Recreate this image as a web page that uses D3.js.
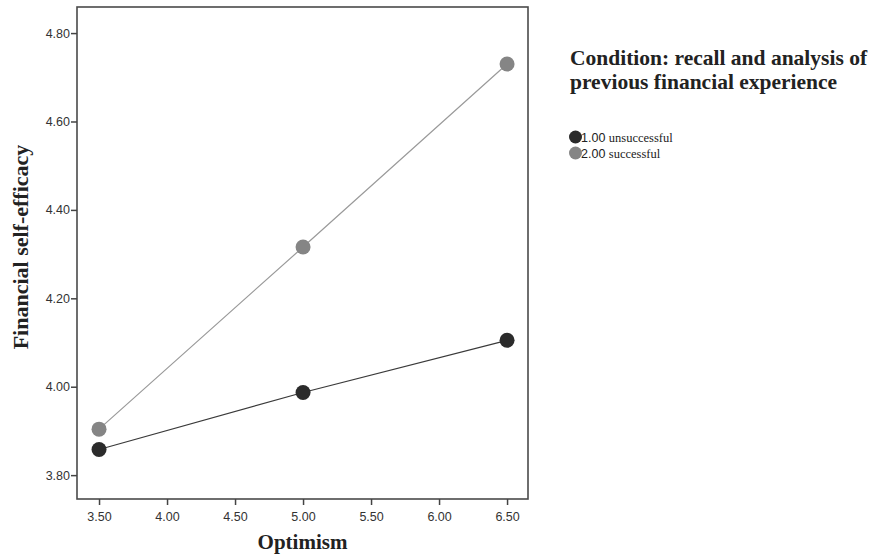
<!DOCTYPE html>
<html>
<head>
<meta charset="utf-8">
<script src="https://cdn.jsdelivr.net/npm/d3@7"></script>
<style>
  body { margin: 0; background: #fff; }
</style>
</head>
<body>
<svg id="chart" width="878" height="557"></svg>
<script>
// data
const xValues = [3.5, 5.0, 6.5];
const unsuccessful = [3.858, 3.987, 4.105];
const successful = [3.904, 4.316, 4.730];
const xTicks = [3.5, 4.0, 4.5, 5.0, 5.5, 6.0, 6.5];
const yTicks = [3.8, 4.0, 4.2, 4.4, 4.6, 4.8];
const seriesNames = ["1.00", "2.00"];
const seriesLabels = ["unsuccessful", "successful"];

const svg = d3.select("#chart");

// plot frame
const plotL = 77, plotR = 528, plotT = 7, plotB = 499;

const x = d3.scaleLinear().domain([3.338, 6.654]).range([plotL, plotR]);
const y = d3.scaleLinear().domain([3.746, 4.859]).range([plotB, plotT]);

const series = [
  { name: seriesNames[0], label: seriesLabels[0], values: unsuccessful, fill: "#2b2b2b", stroke: "#3a3a3a" },
  { name: seriesNames[1], label: seriesLabels[1], values: successful, fill: "#858585", stroke: "#9a9a9a" }
];

svg.append("rect")
  .attr("x", plotL).attr("y", plotT)
  .attr("width", plotR - plotL).attr("height", plotB - plotT)
  .attr("fill", "#fff")
  .attr("stroke", "#4a4a4a")
  .attr("stroke-width", 1.6);

// axes
const xAxis = svg.append("g")
  .attr("transform", `translate(0,${plotB})`)
  .call(d3.axisBottom(x).tickValues(xTicks).tickFormat(d3.format(".2f")).tickSize(6).tickSizeOuter(0));
const yAxis = svg.append("g")
  .attr("transform", `translate(${plotL},0)`)
  .call(d3.axisLeft(y).tickValues(yTicks).tickFormat(d3.format(".2f")).tickSize(6).tickSizeOuter(0));

[xAxis, yAxis].forEach(a => {
  a.select(".domain").remove();
  a.selectAll("line").attr("stroke", "#444").attr("stroke-width", 1.5);
  a.selectAll("text")
    .attr("fill", "#333")
    .style("font-family", "'Liberation Sans', Arial, sans-serif")
    .style("font-size", "12.5px");
});
xAxis.selectAll("text").attr("dy", "1.05em");
yAxis.selectAll("text").attr("x", -7);

// axis titles
svg.append("text")
  .attr("x", (plotL + plotR) / 2)
  .attr("y", 549)
  .attr("text-anchor", "middle")
  .style("font-family", "'Liberation Serif', 'Times New Roman', serif")
  .style("font-weight", "bold")
  .style("font-size", "21px")
  .attr("fill", "#222")
  .text("Optimism");

svg.append("text")
  .attr("transform", `translate(28,247) rotate(-90)`)
  .attr("text-anchor", "middle")
  .style("font-family", "'Liberation Serif', 'Times New Roman', serif")
  .style("font-weight", "bold")
  .style("font-size", "22px")
  .attr("fill", "#222")
  .text("Financial self-efficacy");

// lines and points
const line = d3.line()
  .x((d, i) => x(xValues[i]))
  .y(d => y(d));

series.forEach(s => {
  svg.append("path")
    .attr("fill", "none")
    .attr("stroke", s.stroke)
    .attr("stroke-width", 1.2)
    .attr("d", line(s.values));

  svg.selectAll(null)
    .data(s.values)
    .enter()
    .append("circle")
    .attr("cx", (d, i) => x(xValues[i]))
    .attr("cy", d => y(d))
    .attr("r", 7.5)
    .attr("fill", s.fill);
});

// legend
const lg = svg.append("g").attr("transform", "translate(570,0)");
lg.append("text")
  .attr("x", 0).attr("y", 65)
  .style("font-family", "'Liberation Serif', 'Times New Roman', serif")
  .style("font-weight", "bold")
  .style("font-size", "21.5px")
  .attr("fill", "#222")
  .text("Condition: recall and analysis of");
lg.append("text")
  .attr("x", 0).attr("y", 89)
  .style("font-family", "'Liberation Serif', 'Times New Roman', serif")
  .style("font-weight", "bold")
  .style("font-size", "21.5px")
  .attr("fill", "#222")
  .text("previous financial experience");

series.forEach((s, i) => {
  const yy = 137 + i * 16;
  lg.append("circle")
    .attr("cx", 5.5).attr("cy", yy)
    .attr("r", 6.5)
    .attr("fill", s.fill);
  const t = lg.append("text")
    .attr("x", 11).attr("y", yy + 4.5)
    .attr("fill", "#222")
    .style("font-size", "12.5px");
  t.append("tspan")
    .style("font-family", "'Liberation Sans', Arial, sans-serif")
    .text(s.name + " ");
  t.append("tspan")
    .style("font-family", "'Liberation Serif', 'Times New Roman', serif")
    .text(s.label);
});
</script>
</body>
</html>
